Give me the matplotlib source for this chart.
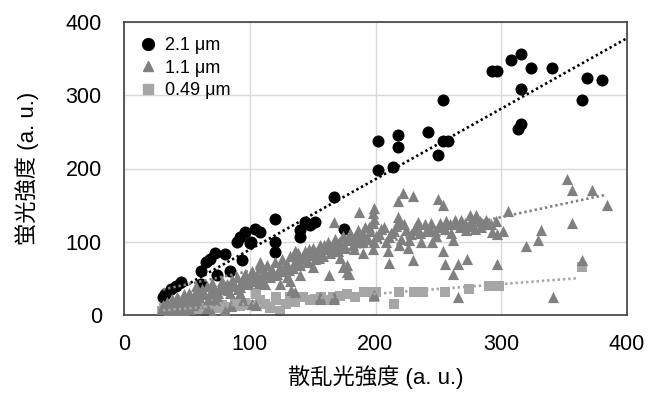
import matplotlib
matplotlib.use("Agg")
import matplotlib.pyplot as plt
import numpy as np
from matplotlib.lines import Line2D

plt.rcParams['font.family'] = ['Liberation Sans', 'Noto Sans CJK JP', 'DejaVu Sans']

# ---- data: 2.1 um (black circles) ----
c21_x = [31, 33, 37, 41, 45, 62, 61, 61, 65, 68, 72, 74, 80, 84, 90, 92, 96, 94, 100, 101,
         104, 108, 120, 120, 120, 140, 140, 144, 148, 152, 167, 175, 202, 214, 202, 218, 218,
         242, 250, 254, 254, 258, 293, 297, 308, 316, 324, 340, 316, 313, 316, 364, 368, 380]
c21_y = [24, 29, 36, 40, 45, 40, 43, 60, 72, 77, 84, 54, 83, 60, 100, 107, 113, 75, 98, 100,
         118, 113, 131, 100, 86, 116, 107, 127, 123, 127, 161, 118, 198, 202, 237, 246, 230,
         250, 219, 293, 237, 237, 333, 333, 348, 356, 337, 337, 309, 254, 261, 293, 324, 321]

# ---- data: 1.1 um (grey triangles) ----
c11_x = [30, 32, 34, 36, 38, 40, 42, 44, 46, 48, 50, 52, 54, 56, 58, 60,
         62, 64, 66, 68, 70, 72, 74, 76, 78, 80, 82, 84, 86, 88, 90, 92, 94, 96, 98, 100,
         102, 104, 106, 108, 110, 112, 114, 116, 118, 120, 122, 124, 126, 128, 130, 132, 134,
         136, 138, 140, 142, 144, 146, 148, 150,
         152, 154, 156, 158, 160, 162, 164, 166, 168, 170, 172, 174, 176, 178, 180, 182, 184,
         186, 188, 190, 192, 194, 196, 198, 200,
         204, 208, 212, 216, 220, 224, 228, 232, 236, 240, 244, 248, 252, 256, 260, 264, 268,
         272, 276, 280, 284, 288, 292, 296,
         222, 218, 230, 250, 254, 218, 219, 234, 305, 293, 297, 301, 275, 280, 285, 254, 262,
         266, 273, 297, 266, 255, 211, 230, 199, 352, 356, 372, 384, 356, 332, 329, 320, 364,
         341, 199, 199, 187, 198, 198, 167, 156, 165, 136, 144, 108, 57, 124, 133, 102, 156,
         167, 179, 177, 163, 187, 190, 108, 136, 156, 167, 105, 185, 137, 132, 140, 174, 177,
         40, 48, 55, 70, 85, 95, 44, 66, 80,
         31, 35, 39, 43, 47, 51, 55, 59, 63, 67, 71, 75, 79, 83, 87, 91, 95, 99, 103, 107,
         111, 115, 119, 123, 127, 131, 135, 139, 143, 147, 151, 155, 159, 163, 167, 171, 175,
         179, 183, 187, 191, 195, 199, 203, 207, 211, 215, 219, 223, 227, 231, 235, 239, 243,
         247, 251, 255, 259, 263, 267, 271, 275, 279, 283, 287, 262, 245, 226, 210, 190, 172,
         150, 130, 112, 92, 72, 52]
c11_y = [8, 12, 18, 10, 22, 15, 25, 20, 12, 28, 22, 30, 18, 26, 32, 24,
         36, 28, 40, 30, 44, 34, 26, 38, 46, 36, 42, 30, 48, 40, 52, 38, 46, 56, 42, 50,
         60, 46, 54, 64, 48, 58, 68, 52, 62, 72, 56, 66, 76, 60, 70, 80, 64,
         74, 84, 68, 78, 88, 72, 82, 92,
         76, 86, 96, 80, 90, 100, 84, 94, 104, 88, 98, 108, 92, 102, 112, 96, 106,
         116, 100, 110, 120, 104, 114, 90, 108,
         118, 100, 112, 122, 104, 116, 110, 122, 100, 114, 126, 108, 120, 128, 112, 124, 130,
         116, 128, 132, 120, 130, 124, 128,
         166, 155, 162, 159, 150, 134, 125, 127, 142, 113, 111, 115, 136, 136, 125, 88, 56,
         70, 77, 70, 24, 70, 71, 75, 27, 185, 170, 170, 150, 126, 116, 102, 94, 75,
         24, 146, 131, 141, 139, 126, 127, 91, 91, 88, 84, 72, 40, 43, 34, 15, 24,
         24, 56, 68, 54, 106, 100, 70, 31, 22, 22, 14, 104, 86, 47, 54, 66, 59,
         4, 6, 14, 3, 12, 20, 2, 10, 6,
         14, 6, 18, 10, 20, 14, 24, 16, 30, 22, 36, 30, 40, 34, 44, 36, 50, 44, 52, 44,
         60, 56, 54, 60, 66, 62, 80, 72, 76, 90, 84, 78, 96, 92, 88, 100, 96,
         106, 90, 110, 104, 120, 100, 110, 120, 106, 114, 96, 124, 102, 116, 112, 124, 118,
         114, 126, 118, 124, 130, 120, 126, 122, 118, 128, 124, 102, 100, 92, 88, 84, 78,
         66, 52, 42, 30, 20, 8]

# ---- data: 0.49 um (light grey squares) ----
c049_x = [30, 32, 34, 36, 38, 40, 42, 44, 46, 48, 50, 52, 55, 58, 60, 62, 65, 68, 70, 73,
          75, 78, 80, 84, 88, 92, 96, 100, 105, 108, 112, 116, 121, 121, 124, 129, 132, 136,
          142, 148, 152, 157, 162, 166, 172, 177, 184, 191, 193, 199, 200, 215, 219, 231,
          235, 238, 255, 274, 290, 294, 298, 364]
c049_y = [6, 10, 4, 8, 12, 6, 9, 5, 11, 7, 10, 6, 12, 8, 14, 9, 5, 12, 16, 20,
          10, 14, 8, 11, 15, 12, 17, 14, 29, 20, 15, 10, 20, 24, 6, 15, 24, 18,
          24, 20, 22, 24, 20, 24, 26, 28, 25, 31, 31, 24, 31, 15, 31, 31,
          32, 31, 31, 36, 39, 39, 39, 65]

# ---- linear trendlines (slope, intercept, x range) ----
trend_slope = [0.962, 0.367, 0.133]
trend_intercept = [-6.9, 23.5, 2.3]
trend_x0 = [31, 31, 31]
trend_x1 = [400, 382, 361]

series_labels = ['2.1 μm', '1.1 μm', '0.49 μm']
x_ticks = [0, 100, 200, 300, 400]
y_ticks = [0, 100, 200, 300, 400]
x_label = '散乱光強度 (a. u.)'
y_label = '蛍光強度 (a. u.)'

col_black = '#000000'
col_tri = '#808080'
col_sq = '#a6a6a6'

fig = plt.figure(figsize=(6.51, 3.94), dpi=100)
ax = fig.add_axes([124 / 651, 1 - 315 / 394, 503 / 651, 293 / 394])

ax.scatter(c049_x, c049_y, marker='s', s=50, color=col_sq, linewidths=0, zorder=2)
ax.scatter(c21_x, c21_y, marker='o', s=75, color=col_black, linewidths=0, zorder=3)
ax.scatter(c11_x, c11_y, marker='^', s=65, color=col_tri, linewidths=0, zorder=4)

cols = [col_black, col_tri, col_sq]
for i in range(3):
    xs = np.array([trend_x0[i], trend_x1[i]], dtype=float)
    ys = trend_slope[i] * xs + trend_intercept[i]
    ax.plot(xs, ys, color=cols[i], lw=1.9, linestyle=(0, (0.9, 1.1)),
            dash_capstyle='butt', zorder=6)

ax.set_xlim(0, 400)
ax.set_ylim(0, 400)
ax.set_xticks(x_ticks)
ax.set_yticks(y_ticks)
ax.grid(True, color='#d9d9d9', lw=1.0, zorder=0)
ax.set_axisbelow(True)
for s in ax.spines.values():
    s.set_color('#404040')
    s.set_linewidth(1.2)
ax.tick_params(length=0, labelsize=15.5, colors='#000000')
ax.tick_params(axis='y', pad=16)
ax.tick_params(axis='x', pad=14)

ax.set_xlabel(x_label, fontsize=16, labelpad=7)
ax.set_ylabel(y_label, fontsize=16, labelpad=19)

handles = [
    Line2D([], [], marker='o', color=col_black, linestyle='none', markersize=8.5),
    Line2D([], [], marker='^', color=col_tri, linestyle='none', markersize=7.5),
    Line2D([], [], marker='s', color=col_sq, linestyle='none', markersize=7),
]
ax.legend(handles, series_labels, loc='upper left', bbox_to_anchor=(0.0, 1.0),
          frameon=False, fontsize=13, handlelength=1.0, handletextpad=0.4,
          labelspacing=0.3, borderaxespad=0.45)

fig.savefig('out.png', dpi=100)
